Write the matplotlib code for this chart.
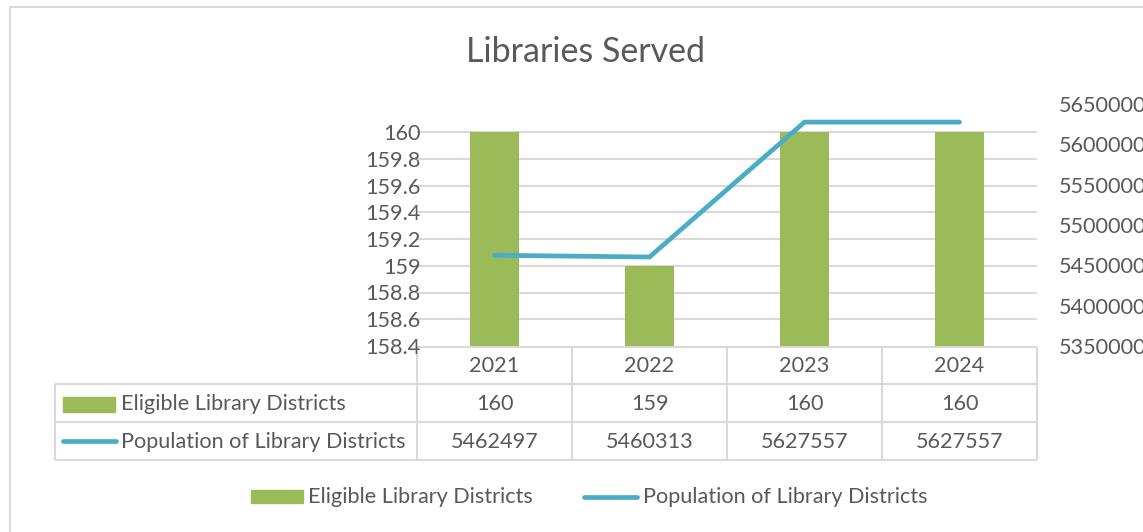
import matplotlib
matplotlib.use("Agg")
import matplotlib.pyplot as plt
from matplotlib.patches import Rectangle

# ---- data ----
years = ["2021", "2022", "2023", "2024"]
eligible = [160, 159, 160, 160]
population = [5462497, 5460313, 5627557, 5627557]
left_ticks = [158.4, 158.6, 158.8, 159.0, 159.2, 159.4, 159.6, 159.8, 160.0]
left_tick_labels = ["158.4", "158.6", "158.8", "159", "159.2", "159.4", "159.6", "159.8", "160"]
right_ticks = [5350000, 5400000, 5450000, 5500000, 5550000, 5600000, 5650000]
series_names = ["Eligible Library Districts", "Population of Library Districts"]
title = "Libraries Served"

# ---- style ----
W, H = 1143, 532
GREEN = "#9BBB59"
BLUE = "#4BACC6"
TXT = "#595959"
GRID = "#D9D9D9"
FS = 15.6
plt.rcParams["font.family"] = ["Lato", "DejaVu Sans"]

fig = plt.figure(figsize=(W / 100, H / 100), dpi=100)
fig.patch.set_facecolor("white")

def fx(x):
    return x / W

def fy(y):
    return 1 - y / H

# overlay in pixel coords
ov = fig.add_axes([0, 0, 1, 1])
ov.set_xlim(0, W)
ov.set_ylim(H, 0)
ov.axis("off")

# plot area
px0, px1 = 417, 1037
py_top, py_bot = 104, 346
ax = fig.add_axes([fx(px0), fy(py_bot), fx(px1 - px0), (py_bot - py_top) / H])
ax.set_facecolor("none")
x = list(range(len(years)))
ax.bar(x, eligible, width=0.31, color=GREEN, zorder=3)
ax.set_xlim(-0.5, len(years) - 0.5)
unit = 0.2 / 26.75  # value per pixel on left axis
ax.set_ylim(158.4, 158.4 + (py_bot - py_top) * unit)
ax.set_yticks(left_ticks)
ax.set_yticklabels(left_tick_labels)
ax.set_xticks([])
for s in ax.spines.values():
    s.set_visible(False)
ax.tick_params(axis="y", length=0, pad=-2.5, labelsize=FS, labelcolor=TXT)
for t in left_ticks[1:]:
    ax.axhline(t, color=GRID, lw=1.5, zorder=1)

ax2 = ax.twinx()
ax2.plot(x, population, color=BLUE, lw=3.4, solid_capstyle="round", zorder=4)
ax2.set_ylim(5350000, 5650000)
ax2.set_yticks(right_ticks)
ax2.set_yticklabels([str(v) for v in right_ticks])
for s in ax2.spines.values():
    s.set_visible(False)
ax2.tick_params(axis="y", length=0, pad=15.5, labelsize=FS, labelcolor=TXT)

# title
ov.text(586, 52, title, ha="center", va="center", fontsize=24.5, color=TXT)

# chart border
ov.plot([10, 10, W + 5], [H + 5, 7, 7], color=GRID, lw=1.5)

# data table
col_w = (px1 - px0) / len(years)
rows_y = [347, 384, 422, 460]
lab_x0 = 55
lkw = dict(color=GRID, lw=1.5, solid_capstyle="butt")
ov.plot([px0, px1], [rows_y[0], rows_y[0]], **lkw)
for yy in rows_y[1:]:
    ov.plot([lab_x0, px1], [yy, yy], **lkw)
for i in range(len(years) + 1):
    xx = px0 + i * col_w
    ov.plot([xx, xx], [rows_y[0], rows_y[-1]], **lkw)
ov.plot([lab_x0, lab_x0], [rows_y[1], rows_y[-1]], **lkw)

for i, yr in enumerate(years):
    cx = px0 + (i + 0.5) * col_w
    ov.text(cx, 366, yr, ha="center", va="center", fontsize=FS, color=TXT)
    ov.text(cx, 404, str(eligible[i]), ha="center", va="center", fontsize=FS, color=TXT)
    ov.text(cx, 442, str(population[i]), ha="center", va="center", fontsize=FS, color=TXT)

# row keys
ov.add_patch(Rectangle((63, 397), 52, 15, color=GREEN))
ov.plot([63, 116], [441, 441], color=BLUE, lw=3.4, solid_capstyle="round")
ov.text(121, 404, series_names[0], ha="left", va="center", fontsize=FS, color=TXT)
ov.text(121, 442, series_names[1], ha="left", va="center", fontsize=FS, color=TXT)

# legend
ov.add_patch(Rectangle((251, 490), 52, 13, color=GREEN))
ov.text(308, 497, series_names[0], ha="left", va="center", fontsize=FS, color=TXT)
ov.plot([584, 637], [497, 497], color=BLUE, lw=3.4, solid_capstyle="round")
ov.text(643, 497, series_names[1], ha="left", va="center", fontsize=FS, color=TXT)

fig.savefig("out.png", dpi=100, facecolor="white")
